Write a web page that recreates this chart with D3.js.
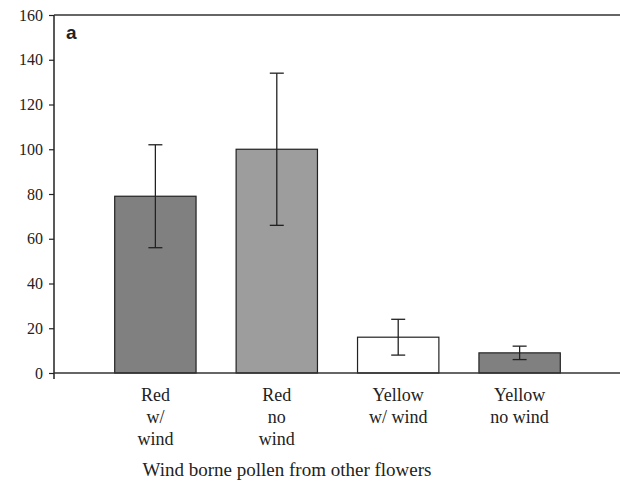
<!DOCTYPE html>
<html>
<head>
<meta charset="utf-8">
<script src="https://cdn.jsdelivr.net/npm/d3@7"></script>
<style>
  body { margin: 0; background: #fff; }
  text { font-family: "Liberation Serif", "Times New Roman", serif; fill: #222; }
</style>
</head>
<body>
<div id="graph"></div>
<script>
// data
const categories = ["Red w/ wind", "Red no wind", "Yellow w/ wind", "Yellow no wind"]
const labelLines = [["Red", "w/", "wind"], ["Red", "no", "wind"], ["Yellow", "w/ wind"], ["Yellow", "no wind"]]
const means = [79, 100, 16, 9]
const errLow = [56, 66, 8, 6]
const errHigh = [102, 134, 24, 12]
const fills = ["#808080", "#9d9d9d", "#ffffff", "#808080"]
const yTicks = [0, 20, 40, 60, 80, 100, 120, 140, 160]
const panelLabel = "a"
const xTitle = "Wind borne pollen from other flowers"

var w = 620, h = 486
var mLeft = 54, mRight = 621, mTop = 15, mBottom = 373

var svg = d3.select('#graph')
  .append('svg')
  .attr("width", w)
  .attr("height", h)

var x = d3.scaleBand()
  .domain(categories)
  .range([mLeft, mRight])
  .paddingInner(0.33)
  .paddingOuter(0.5)

var y = d3.scaleLinear()
  .domain([0, 160])
  .range([mBottom, mTop])

var rows = categories.map((c, i) => ({
  cat: c, mean: means[i], lo: errLow[i], hi: errHigh[i], fill: fills[i], lines: labelLines[i]
}))

// bars
svg.append("g").selectAll("rect")
  .data(rows)
  .enter()
  .append("rect")
  .attr("x", d => x(d.cat))
  .attr("y", d => y(d.mean))
  .attr("width", x.bandwidth())
  .attr("height", d => y(0) - y(d.mean))
  .style("fill", d => d.fill)
  .style("stroke", "#222")
  .style("stroke-width", 1.2)

// error bars
var cap = 7
var eb = svg.append("g").selectAll("g")
  .data(rows)
  .enter()
  .append("g")
  .style("stroke", "#222")
  .style("stroke-width", 1.3)

eb.append("line")
  .attr("x1", d => x(d.cat) + x.bandwidth()/2)
  .attr("x2", d => x(d.cat) + x.bandwidth()/2)
  .attr("y1", d => y(d.lo))
  .attr("y2", d => y(d.hi))
eb.append("line")
  .attr("x1", d => x(d.cat) + x.bandwidth()/2 - cap)
  .attr("x2", d => x(d.cat) + x.bandwidth()/2 + cap)
  .attr("y1", d => y(d.lo))
  .attr("y2", d => y(d.lo))
eb.append("line")
  .attr("x1", d => x(d.cat) + x.bandwidth()/2 - cap)
  .attr("x2", d => x(d.cat) + x.bandwidth()/2 + cap)
  .attr("y1", d => y(d.hi))
  .attr("y2", d => y(d.hi))

// y axis
var yAxis = svg.append("g")
  .attr("transform", `translate(${mLeft},0)`)
  .call(d3.axisLeft(y).tickValues(yTicks).tickSize(5).tickPadding(6).tickSizeOuter(0))
yAxis.select(".domain").attr("stroke", "#222").attr("stroke-width", 1.5)
  .attr("d", `M0,${mTop}V${mBottom + 6}`)
yAxis.selectAll(".tick line").attr("stroke", "#222").attr("stroke-width", 1.2)
yAxis.selectAll(".tick text")
  .style("font-family", '"Liberation Serif", serif')
  .style("font-size", "16px")
  .attr("fill", "#222")

// frame top line and x baseline
svg.append("line")
  .attr("x1", mLeft).attr("x2", w)
  .attr("y1", mTop).attr("y2", mTop)
  .style("stroke", "#333").style("stroke-width", 1.5)
svg.append("line")
  .attr("x1", mLeft).attr("x2", w)
  .attr("y1", y(0)).attr("y2", y(0))
  .style("stroke", "#333").style("stroke-width", 1.5)

// category labels
var lab = svg.append("g").selectAll("text")
  .data(rows)
  .enter()
  .append("text")
  .attr("text-anchor", "middle")
  .style("font-size", "18px")
  .attr("transform", d => `translate(${x(d.cat) + x.bandwidth()/2},401)`)

lab.selectAll("tspan")
  .data(d => d.lines)
  .enter()
  .append("tspan")
  .attr("x", 0)
  .attr("y", (d, i) => i * 22)
  .text(d => d)

// panel letter
svg.append("text")
  .attr("x", 66).attr("y", 39)
  .style("font-family", '"Liberation Sans", Arial, sans-serif')
  .style("font-weight", "bold")
  .style("font-size", "19px")
  .attr("fill", "#111")
  .text(panelLabel)

// x title
svg.append("text")
  .attr("x", 287).attr("y", 476)
  .attr("text-anchor", "middle")
  .style("font-size", "19px")
  .text(xTitle)
</script>
</body>
</html>
